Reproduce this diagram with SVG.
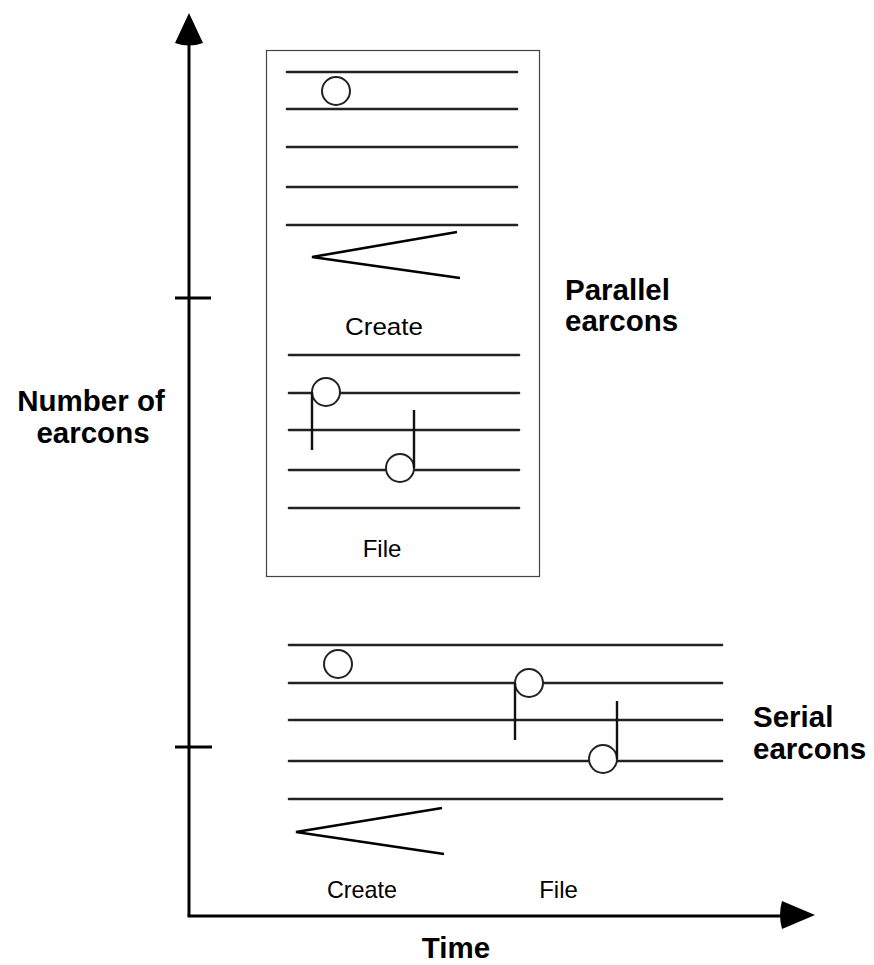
<svg xmlns="http://www.w3.org/2000/svg" width="874" height="965" viewBox="0 0 874 965">
<style>
.staff{stroke:#222;stroke-width:2.6;fill:none;stroke-linecap:round}
.note{fill:#fff;stroke:#222;stroke-width:2}
.stem{stroke:#111;stroke-width:2.4;fill:none}
.hair{stroke:#000;stroke-width:2.6;fill:none;stroke-linejoin:miter}
.axis{stroke:#000;stroke-width:3;fill:none}
.lbl{font-family:"Liberation Sans",Arial,sans-serif;font-size:24px;fill:#000}
.big{font-family:"Liberation Sans",Arial,sans-serif;font-size:29.5px;font-weight:bold;fill:#000}
</style>
<rect width="874" height="965" fill="#fff"/>
<g id="connectors">
  <line class="axis" x1="189" y1="40" x2="189" y2="916"/>
  <line class="axis" x1="187.5" y1="916" x2="786" y2="916"/>
  <path d="M189 13 L203 43 Q189 48 175 43 Z" fill="#000"/>
  <path d="M815 915 L782 929 Q778 915 782 901 Z" fill="#000"/>
  <line class="axis" x1="175" y1="298" x2="211" y2="298"/>
  <line class="axis" x1="175" y1="747" x2="212" y2="747"/>
</g>
<g id="axis-labels">
  <text class="big" x="91" y="411" text-anchor="middle">Number of</text>
  <text class="big" x="93" y="443" text-anchor="middle">earcons</text>
  <text class="big" x="456" y="958" text-anchor="middle">Time</text>
</g>
<g id="parallel-earcons">
  <rect x="266.5" y="50.5" width="273" height="526" fill="none" stroke="#444" stroke-width="1.2"/>
  <g id="parallel-create">
    <line class="staff" x1="287" y1="72" x2="517" y2="72"/>
    <line class="staff" x1="287" y1="109" x2="517" y2="109"/>
    <line class="staff" x1="287" y1="147" x2="517" y2="147"/>
    <line class="staff" x1="287" y1="187" x2="517" y2="187"/>
    <line class="staff" x1="287" y1="225" x2="517" y2="225"/>
    <circle class="note" cx="336" cy="91" r="14"/>
    <polyline class="hair" points="457,232 312,257 460,278"/>
    <text class="lbl" x="384" y="335" text-anchor="middle" textLength="78" lengthAdjust="spacingAndGlyphs">Create</text>
  </g>
  <g id="parallel-file">
    <line class="staff" x1="289" y1="355" x2="519" y2="355"/>
    <line class="staff" x1="289" y1="393" x2="519" y2="393"/>
    <line class="staff" x1="289" y1="430" x2="519" y2="430"/>
    <line class="staff" x1="289" y1="470" x2="519" y2="470"/>
    <line class="staff" x1="289" y1="508" x2="519" y2="508"/>
    <circle class="note" cx="326" cy="392" r="14"/>
    <line class="stem" x1="312" y1="392" x2="312" y2="450"/>
    <circle class="note" cx="400" cy="468" r="14"/>
    <line class="stem" x1="414" y1="410" x2="414" y2="468"/>
    <text class="lbl" x="382" y="557" text-anchor="middle">File</text>
  </g>
  <text class="big" x="565" y="300">Parallel</text>
  <text class="big" x="565" y="331">earcons</text>
</g>
<g id="serial-earcons">
  <line class="staff" x1="289" y1="645" x2="722" y2="645"/>
  <line class="staff" x1="289" y1="683" x2="722" y2="683"/>
  <line class="staff" x1="289" y1="720" x2="722" y2="720"/>
  <line class="staff" x1="289" y1="761" x2="722" y2="761"/>
  <line class="staff" x1="289" y1="799" x2="722" y2="799"/>
  <circle class="note" cx="338" cy="664" r="14"/>
  <circle class="note" cx="529" cy="683" r="14"/>
  <line class="stem" x1="515" y1="683" x2="515" y2="740"/>
  <circle class="note" cx="603" cy="759" r="14"/>
  <line class="stem" x1="617" y1="701" x2="617" y2="759"/>
  <polyline class="hair" points="442,808 296,832 444,854"/>
  <text class="lbl" x="362" y="898" text-anchor="middle" textLength="70" lengthAdjust="spacingAndGlyphs">Create</text>
  <text class="lbl" x="558.5" y="898" text-anchor="middle">File</text>
  <text class="big" x="753" y="727">Serial</text>
  <text class="big" x="753" y="759">earcons</text>
</g>
</svg>
